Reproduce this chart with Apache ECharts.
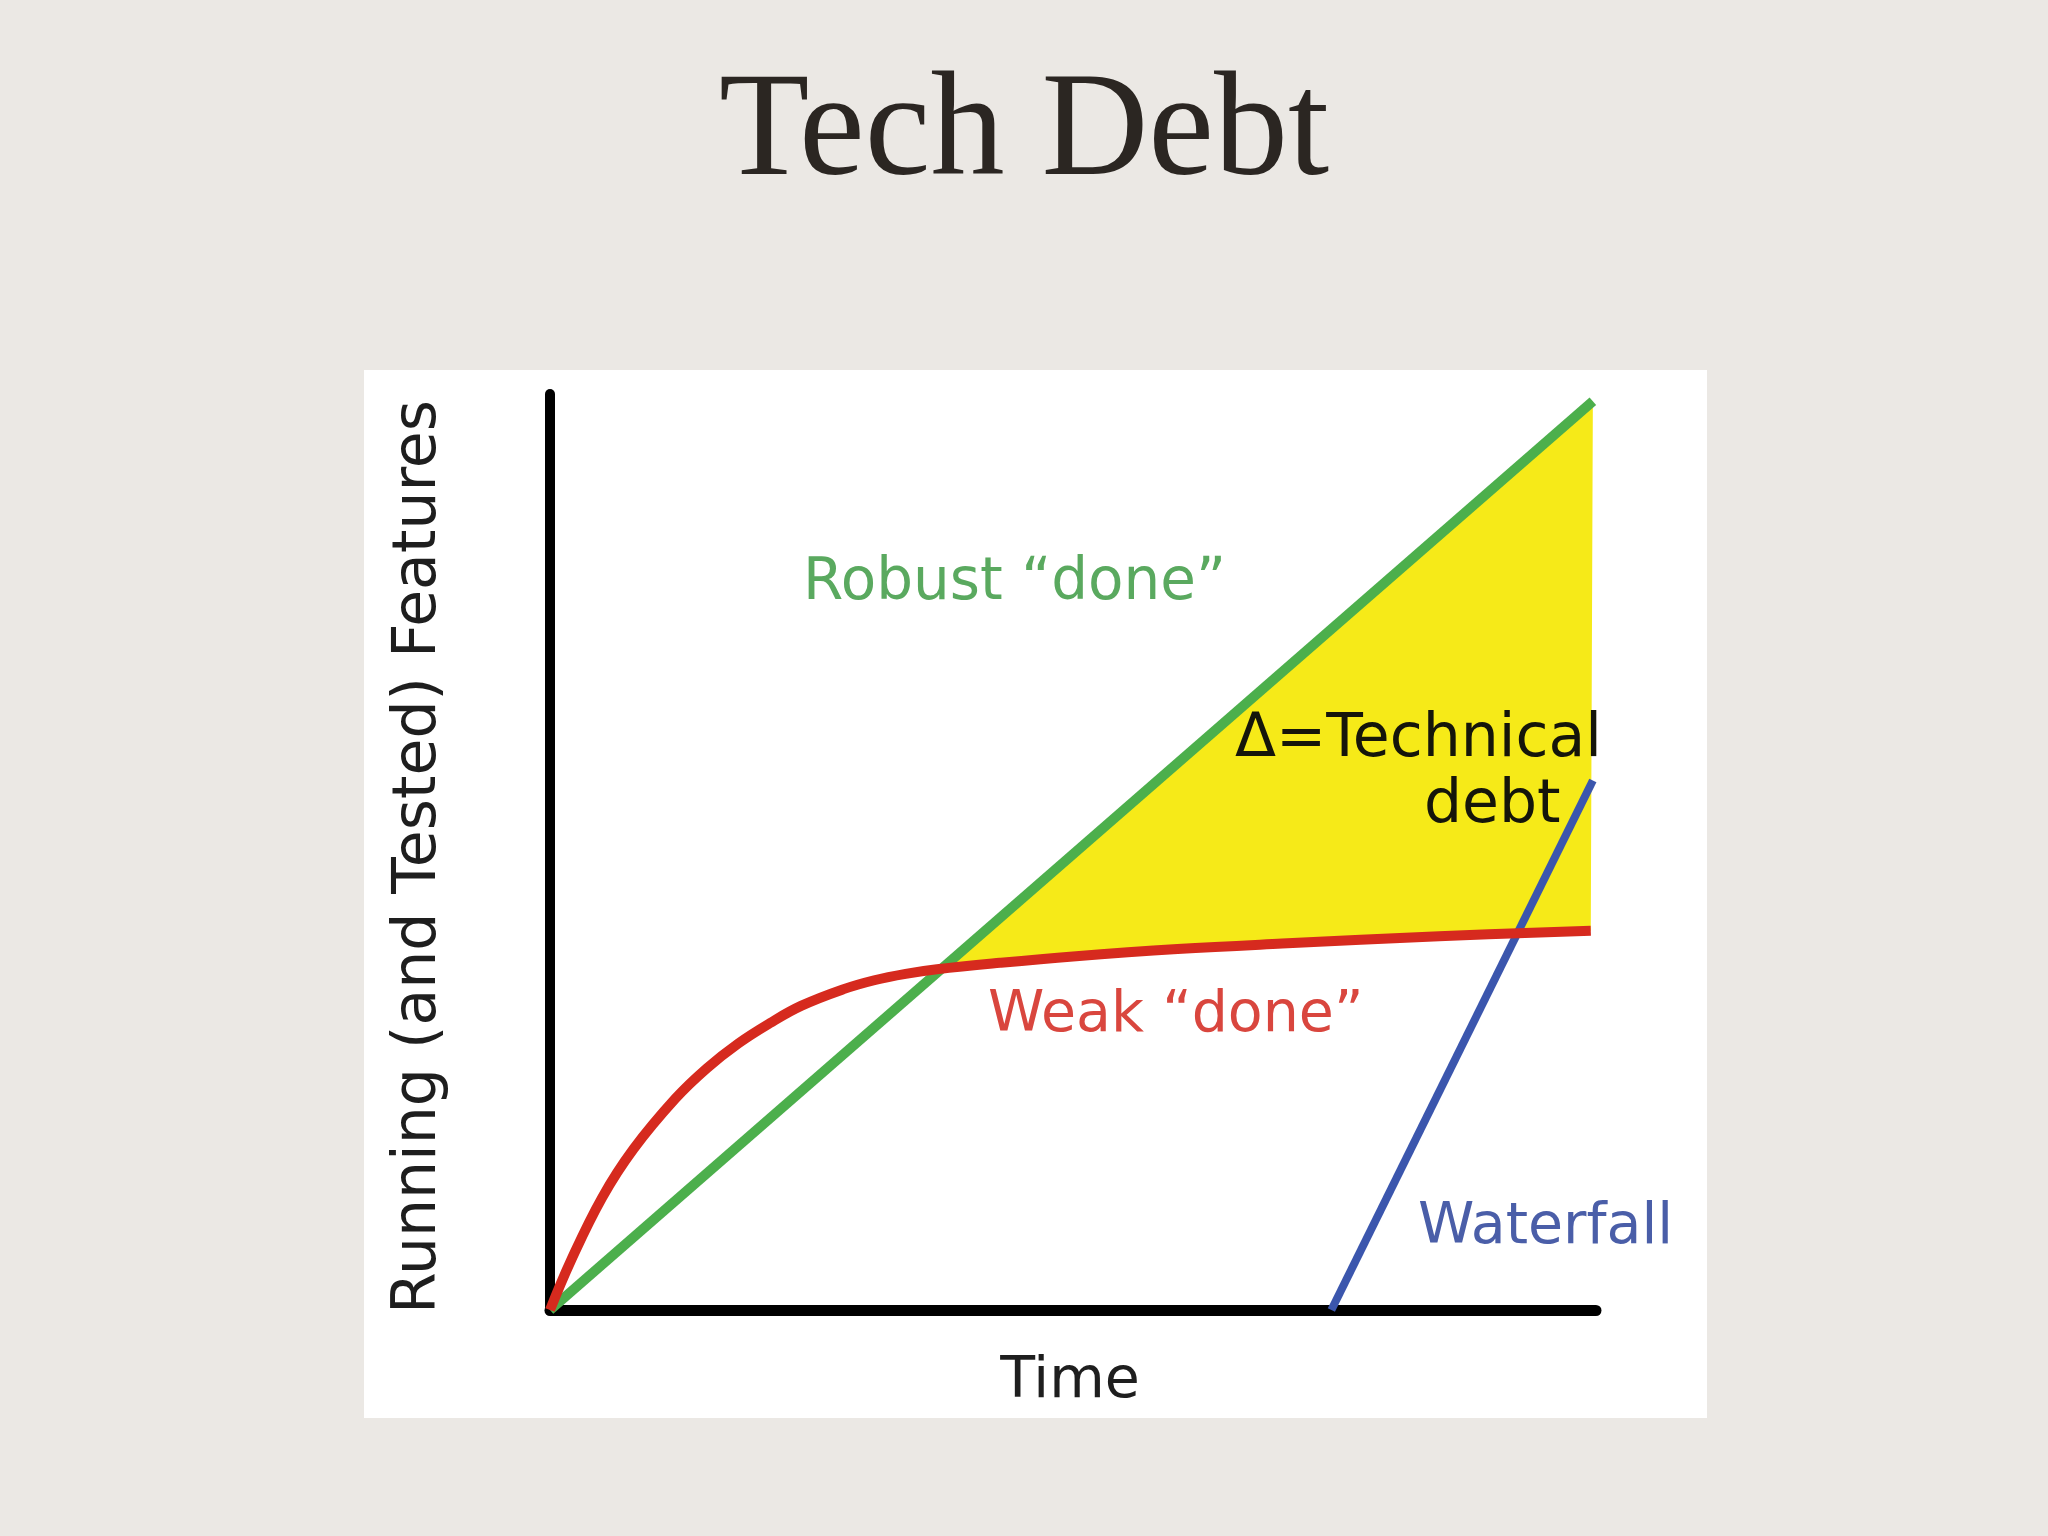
<!DOCTYPE html>
<html>
<head>
    <meta charset="UTF-8">
    <title>Tech Debt</title>
    <script src="https://cdn.jsdelivr.net/npm/echarts@6/dist/echarts.min.js"></script>
    <style>
        html, body { margin: 0; padding: 0; background: #ebe8e4; }
        #main { width: 2048px; height: 1536px; }
    </style>
</head>
<body>
<div id="main"></div>

<script type="text/javascript">
    // time axis samples (0..100) and the curves
    var timeX    = [0, 2, 5, 8, 12, 15, 18, 21, 24, 28, 31, 34, 37, 43, 50, 60, 70, 85, 99.5];
    var weakDone = [0, 5.4, 12.3, 17.6, 23.1, 26.4, 29.1, 31.3, 33.2, 35.0, 36.0, 36.7, 37.2, 37.9, 38.6, 39.4, 40.0, 40.8, 41.4];

    var robustX    = [0, 99.7];
    var robustDone = [0, 99.2];

    var waterfallX = [74.7, 99.7];
    var waterfall  = [0, 57.8];

    // where robust crosses weak: the technical debt area starts here
    var debtStartX = 37;

    function pairs(xs, ys) {
        return xs.map(function (x, i) { return [x, ys[i]]; });
    }

    // polygon: along the weak curve, then up to the end of the robust line
    var debtBand = pairs(timeX, weakDone).filter(function (p) { return p[0] >= debtStartX; });
    debtBand.push([robustX[robustX.length - 1], robustDone[robustDone.length - 1]]);

    var myChart = echarts.init(document.getElementById('main'), null, {renderer: 'canvas'});

    var labelFont = 'DejaVu Sans';

    var option = {
        backgroundColor: '#ebe8e4',
        animation: false,
        title: {
            text: 'Tech Debt',
            left: 'center',
            top: 56,
            textStyle: {
                fontFamily: 'Liberation Serif',
                fontSize: 148,
                fontWeight: 'normal',
                color: '#2b2622'
            }
        },
        graphic: [
            {
                type: 'rect',
                z: -10,
                silent: true,
                shape: {x: 364, y: 370, width: 1343, height: 1048},
                style: {fill: '#ffffff'}
            },
            {
                type: 'text', x: 419, y: 857, rotation: Math.PI / 2, z: 10,
                style: {text: 'Running (and Tested) Features', fontFamily: labelFont, fontSize: 60,
                    fill: '#1e1e1e', align: 'center', verticalAlign: 'middle'}
            },
            {
                type: 'text', x: 1070, y: 1382, z: 10,
                style: {text: 'Time', fontFamily: labelFont, fontSize: 57,
                    fill: '#1e1e1e', align: 'center', verticalAlign: 'middle'}
            },
            {
                type: 'text', x: 803, y: 584, z: 10,
                style: {text: 'Robust \u201cdone\u201d', fontFamily: labelFont, fontSize: 58,
                    fill: '#5aa95f', align: 'left', verticalAlign: 'middle'}
            },
            {
                type: 'text', x: 988, y: 1016, z: 10,
                style: {text: 'Weak \u201cdone\u201d', fontFamily: labelFont, fontSize: 57,
                    fill: '#d9463e', align: 'left', verticalAlign: 'middle'}
            },
            {
                type: 'text', x: 1418, y: 1228, z: 10,
                style: {text: 'Waterfall', fontFamily: labelFont, fontSize: 57,
                    fill: '#4a5ea8', align: 'left', verticalAlign: 'middle'}
            },
            {
                type: 'text', x: 1235, y: 740, z: 10,
                style: {text: '\u0394=Technical', fontFamily: labelFont, fontSize: 60,
                    fill: '#15150a', align: 'left', verticalAlign: 'middle'}
            },
            {
                type: 'text', x: 1424, y: 806, z: 10,
                style: {text: 'debt', fontFamily: labelFont, fontSize: 60,
                    fill: '#15150a', align: 'left', verticalAlign: 'middle'}
            }
        ],
        grid: {
            left: 550,
            right: 452,
            top: 394,
            bottom: 226,
            containLabel: false
        },
        xAxis: {
            type: 'value',
            min: 0,
            max: 100,
            axisLine: {lineStyle: {color: '#000', width: 11}},
            axisTick: {show: false},
            axisLabel: {show: false},
            splitLine: {show: false}
        },
        yAxis: {
            type: 'value',
            min: 0,
            max: 100,
            axisLine: {show: true, lineStyle: {color: '#000', width: 10}},
            axisTick: {show: false},
            axisLabel: {show: false},
            splitLine: {show: false}
        },
        series: [
            {
                name: 'Technical debt',
                type: 'custom',
                z: 1,
                data: debtBand,
                renderItem: function (params, api) {
                    if (params.dataIndex !== 0) return null;
                    var pts = debtBand.map(function (p) { return api.coord(p); });
                    return {
                        type: 'polygon',
                        shape: {points: pts},
                        style: {fill: '#f6ea18'}
                    };
                }
            },
            {
                name: 'Robust done',
                type: 'line',
                z: 3,
                data: pairs(robustX, robustDone),
                symbol: 'none',
                lineStyle: {color: '#4caf4c', width: 10}
            },
            {
                name: 'Weak done',
                type: 'line',
                z: 4,
                smooth: 0.4,
                data: pairs(timeX, weakDone),
                symbol: 'none',
                lineStyle: {color: '#d62a1e', width: 10}
            },
            {
                name: 'Waterfall',
                type: 'line',
                z: 3,
                data: pairs(waterfallX, waterfall),
                symbol: 'none',
                lineStyle: {color: '#3b56ad', width: 8}
            }
        ]
    };

    myChart.setOption(option);
</script>
</body>
</html>
